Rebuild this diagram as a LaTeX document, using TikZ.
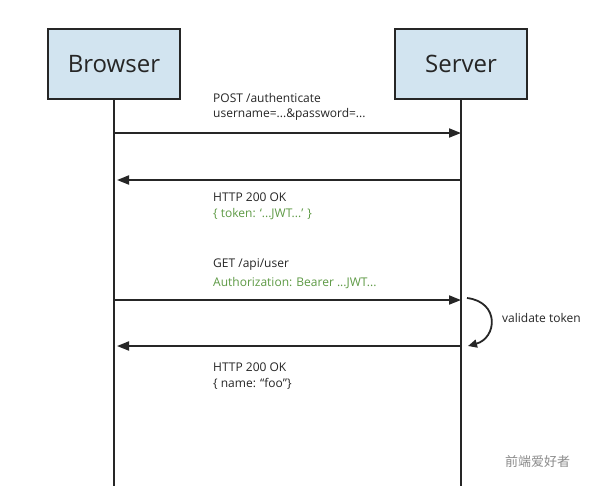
\documentclass[tikz,border=0pt]{standalone}
\usepackage{fontspec}
\setmainfont{Open Sans}
\newfontfamily\cjk{Noto Sans CJK SC}
\usetikzlibrary{arrows.meta}
\definecolor{boxfill}{HTML}{D2E4F0}
\definecolor{jwtgreen}{HTML}{5E9A45}
\tikzset{
  actor/.style={draw=black!85, line width=1.8pt, fill=boxfill, minimum width=132pt, minimum height=70pt, font=\fontsize{24}{28}\selectfont, text=black!85},
  life/.style={draw=black!85, line width=1.8pt},
  msg/.style={draw=black!85, line width=1.8pt, -{Triangle[length=12pt,width=9pt]}},
  lbl/.style={anchor=west, font=\fontsize{12}{14}\selectfont, text=black!85, inner sep=0pt},
  glbl/.style={lbl, text=jwtgreen},
}
\begin{document}
\begin{tikzpicture}[x=1pt,y=-1pt]
\useasboundingbox[fill=white] (0,0) rectangle (600,491);
\node[actor] (browser) at (114,64) {Browser};
\node[actor] (server) at (461,64) {Server};
\coordinate (bend) at (114,486);
\coordinate (send) at (461,486);
\draw[life] (browser.south) -- (bend);
\draw[life] (server.south) -- (send);
% message points
\coordinate (b1) at (114,133); \coordinate (s1) at (461,133);
\coordinate (s2) at (461,180); \coordinate (b2) at (117,180);
\coordinate (b3) at (114,300); \coordinate (s3) at (461,300);
\coordinate (s4) at (461,346); \coordinate (b4) at (117,346);
\draw[msg] (b1) -- (s1);
\draw[msg] (s2) -- (b2);
\draw[msg] (b3) -- (s3);
\draw[msg] (s4) -- (b4);
\node[lbl] (t1) at (213,98) {POST /authenticate};
\node[lbl] (t2) at (213,114) {username=...\&password=...};
\node[lbl] (t3) at (213,197) {HTTP 200 OK};
\node[glbl] (t4) at (213,214) {\{ token: `...JWT...' \}};
\node[lbl] (t5) at (213,265) {GET /api/user};
\node[glbl] (t6) at (213,283) {Authorization: Bearer ...JWT...};
\node[lbl] (t7) at (213,367) {HTTP 200 OK};
\node[lbl] (t8) at (213,384) {\{ name: “foo”\}};
% self call
\coordinate (v1) at (467,298);
\coordinate (v2) at (468,346);
\draw[draw=black!85, line width=1.8pt, -{Triangle[length=9pt,width=8pt]}] (v1) .. controls (500,302) and (497,338) .. (v2);
\node[lbl] (vt) at (502,318) {validate token};
\node[anchor=west, font=\cjk\fontsize{13}{15}\selectfont, text=black!45, inner sep=0pt] (wm) at (505,462) {前端爱好者};
\end{tikzpicture}
\end{document}
